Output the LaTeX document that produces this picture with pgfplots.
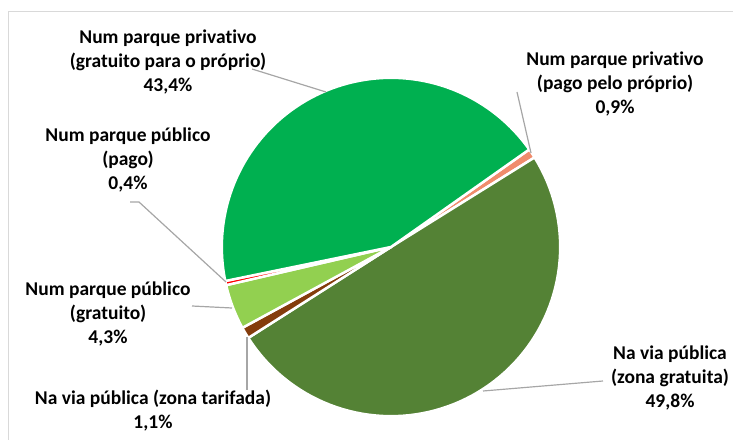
\documentclass[border=0pt]{standalone}
\usepackage{pgfplots}
\pgfplotsset{compat=1.18}
\usepackage{fontspec}
\setmainfont[Ligatures={NoCommon,NoRequired,NoContextual}]{Carlito}
\definecolor{gbig}{HTML}{00B050}
\definecolor{gdark}{HTML}{548235}
\definecolor{glight}{HTML}{92D050}
\definecolor{cbrown}{HTML}{843C0C}
\definecolor{cred}{HTML}{FF0000}
\definecolor{corange}{HTML}{F08C6C}
\definecolor{lead}{HTML}{A6A6A6}
\definecolor{frame}{HTML}{D9D9D9}
% data (percent), clockwise from the start angle
\def\vOrange{0.9}   % Num parque privativo (pago pelo proprio)
\def\vDark{49.8}    % Na via publica (zona gratuita)
\def\vBrown{1.1}    % Na via publica (zona tarifada)
\def\vLight{4.3}    % Num parque publico (gratuito)
\def\vRed{0.4}      % Num parque publico (pago)
\def\vBig{43.4}     % Num parque privativo (gratuito para o proprio)
\pgfmathsetmacro\tot{\vOrange+\vDark+\vBrown+\vLight+\vRed+\vBig}
\pgfmathsetmacro\k{360/\tot}
\pgfmathsetmacro\bA{35.2}
\pgfmathsetmacro\bB{\bA-\vOrange*\k}
\pgfmathsetmacro\bC{\bB-\vDark*\k}
\pgfmathsetmacro\bD{\bC-\vBrown*\k}
\pgfmathsetmacro\bE{\bD-\vLight*\k}
\pgfmathsetmacro\bF{\bE-\vRed*\k}
\pgfmathsetmacro\bG{\bF-\vBig*\k}
\def\cx{391}\def\cy{192}\def\rr{169.2}
\pgfplotsset{wedge/.style={draw=white, line width=2.5pt, line join=round, samples=80}}
\begin{document}
\begin{tikzpicture}
\useasboundingbox (0,0) rectangle (733pt,439pt);
\begin{axis}[at={(0,0)}, anchor=origin, x=1pt, y=1pt, xmin=0, xmax=733, ymin=0, ymax=439,
  hide axis, clip=false]
% frame
\addplot[draw=frame, line width=1pt] coordinates {(8.5,-5) (8.5,427.5) (740,427.5)};
% wedges
\addplot[wedge, fill=corange, domain=\bB:\bA] ({\cx+\rr*cos(x)},{\cy+\rr*sin(x)}) -- (axis cs:\cx,\cy) -- cycle;
\addplot[wedge, fill=gdark, domain=\bC:\bB] ({\cx+\rr*cos(x)},{\cy+\rr*sin(x)}) -- (axis cs:\cx,\cy) -- cycle;
\addplot[wedge, fill=cbrown, domain=\bD:\bC] ({\cx+\rr*cos(x)},{\cy+\rr*sin(x)}) -- (axis cs:\cx,\cy) -- cycle;
\addplot[wedge, fill=glight, domain=\bE:\bD] ({\cx+\rr*cos(x)},{\cy+\rr*sin(x)}) -- (axis cs:\cx,\cy) -- cycle;
\addplot[wedge, fill=cred, domain=\bF:\bE] ({\cx+\rr*cos(x)},{\cy+\rr*sin(x)}) -- (axis cs:\cx,\cy) -- cycle;
\addplot[wedge, fill=gbig, domain=\bG:\bF] ({\cx+\rr*cos(x)},{\cy+\rr*sin(x)}) -- (axis cs:\cx,\cy) -- cycle;
% leader lines
\addplot[draw=lead, line width=1.2pt] coordinates {(252,370) (326,347)};
\addplot[draw=lead, line width=1.2pt] coordinates {(517,347) (531,286)};
\addplot[draw=lead, line width=1.2pt] coordinates {(130,237) (139,237) (226,157)};
\addplot[draw=lead, line width=1.2pt] coordinates {(192,133) (232,131)};
\addplot[draw=lead, line width=1.2pt] coordinates {(247,102) (247,49)};
\addplot[draw=lead, line width=1.2pt] coordinates {(603,58) (483,48)};
% labels
\tikzset{lab/.style={align=center, font=\bfseries\fontsize{19.5}{24}\selectfont, inner sep=0pt, anchor=center}}
\node[lab] at (axis cs:168,377) {Num parque privativo\\(gratuito para o próprio)\\43,4\%};
\node[lab] at (axis cs:615,355) {Num parque privativo\\(pago pelo próprio)\\0,9\%};
\node[lab] at (axis cs:128,279) {Num parque público\\(pago)\\0,4\%};
\node[lab] at (axis cs:108,125) {Num parque público\\(gratuito)\\4,3\%};
\node[lab] at (axis cs:153,28.5) {Na via pública (zona tarifada)\\1,1\%};
\node[lab] at (axis cs:670,61) {Na via pública\\(zona gratuita)\\49,8\%};
\end{axis}
\end{tikzpicture}
\end{document}
